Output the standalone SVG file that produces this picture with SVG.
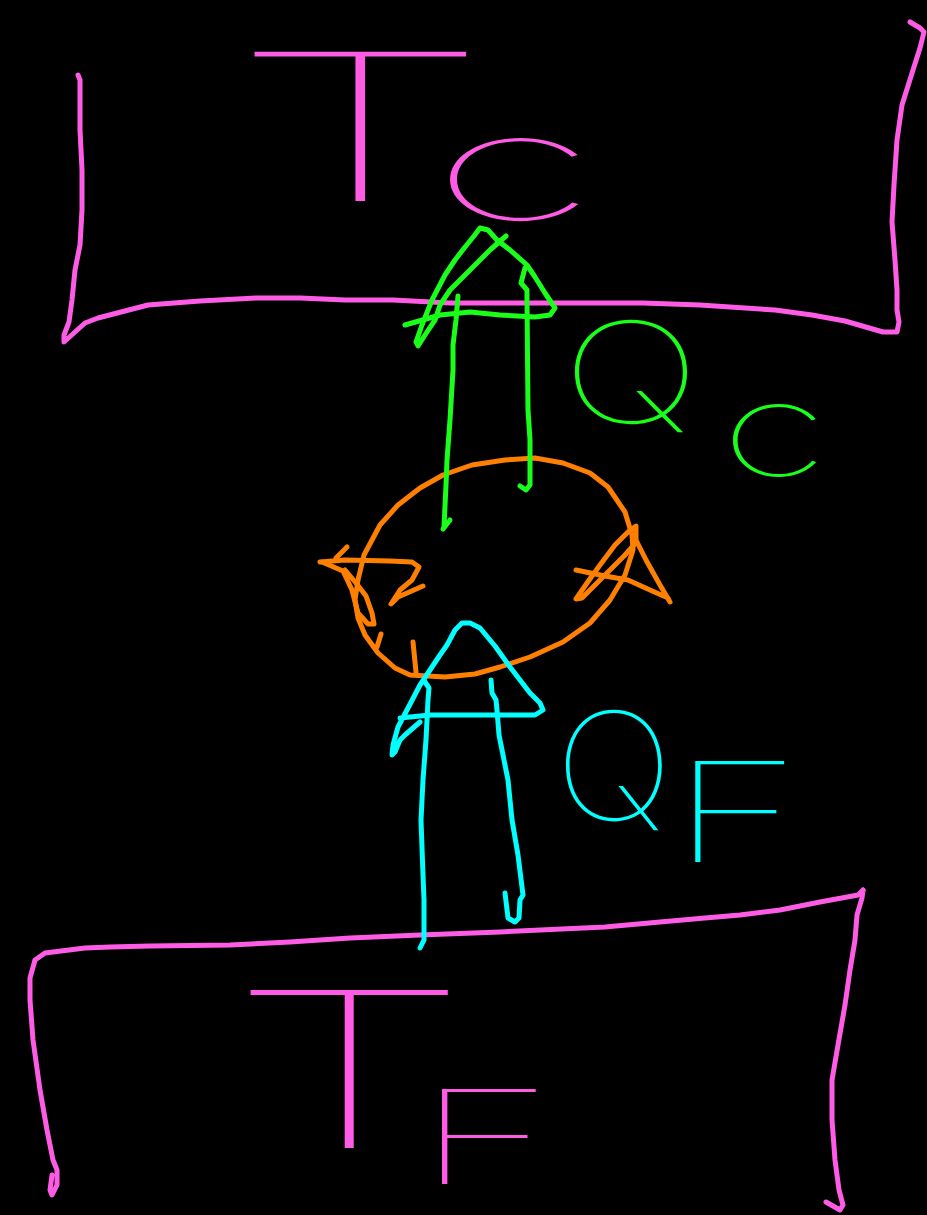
<svg xmlns="http://www.w3.org/2000/svg" width="927" height="1215" viewBox="0 0 927 1215">
<style>
.s{fill:none;stroke-width:5;stroke-linecap:round;stroke-linejoin:round}
.m{stroke:#ff5ce6}.g{stroke:#1aff1a}.o{stroke:#ff8000}.c{stroke:#00ffff}
.t{font-family:"Inter","Lato","Roboto","DejaVu Sans",sans-serif;font-weight:100;text-anchor:middle}
.ts{font-family:"Inter","Lato","Roboto","DejaVu Sans",sans-serif;font-weight:100}
.tm{fill:#ff5ce6}.tg{fill:#1aff1a}.tc{fill:#00ffff}
</style>
<rect width="927" height="1215" fill="#000"/>
<g id="hot-reservoir">
<path class="s m" d="M78,75 L80,80 L80,130 L82,170 L82,210 L80,245 L75,270 L72,300 L69,322 L64,335 L64,342 L75,332 L85,323 L98,318 L148,305 L200,301 L256,298 L300,298 L345,300 L393,300 L450,303 L550,303 L643,303 L700,305 L775,310 L812,315 L845,321 L883,332 L897,332 L899,322 L897,310 L897,290 L895,260 L892,222 L894,185 L897,140 L902,105 L913,70 L920,48 L924,32 L920,28 L910,22"/>
<text class="ts tm" transform="scale(2.1,1)" x="108.4" y="201" font-size="205">T<tspan dx="-29.8" dy="19" font-size="148">c</tspan></text>
</g>
<g id="cold-reservoir">
<path class="s m" d="M863,890 L858,895 L820,902 L780,910 L740,915 L705,918 L660,922 L605,927 L500,932 L420,935 L350,938 L290,942 L230,945 L150,946 L110,947 L85,948 L45,953 L35,960 L30,978 L30,1000 L33,1040 L40,1090 L47,1130 L53,1160 L57,1170 L57,1185 L52,1195 L50,1190 L52,1175"/>
<path class="s m" d="M863,890 L862,898 L857,915 L855,940 L850,970 L845,1005 L838,1045 L832,1080 L832,1120 L835,1160 L839,1190 L843,1205 L840,1210 L826,1202"/>
<text class="ts tm" transform="scale(1.85,1)" x="121.9" y="1148" font-size="217">T<tspan dx="-31.4" dy="36" font-size="130">F</tspan></text>
</g>
<g id="engine">
<path class="s o" d="M420,488 L443,475 L472,465 L505,460 L535,458 L563,463 L590,473 L608,487 L625,512 L632,535 L633,550 L625,575 L610,600 L590,623 L563,642 L530,657 L500,667 L475,674 L445,677 L410,675 L395,668 L378,653 L365,635 L358,618 L355,600 L358,580 L364,555 L380,525 L398,505 Z"/>
<path class="s o" d="M347,547 L336,558"/>
<path class="s o" d="M320,562 L345,560 L390,561 L412,562 L419,567 L412,580 L400,590 L391,604 L398,597 L423,586"/>
<path class="s o" d="M322,562 L343,571 L352,590 L358,613 L368,624 L374,624 L372,613 L366,596 L356,583 L345,570"/>
<path class="s o" d="M381,634 L377,647"/>
<path class="s o" d="M413,642 L416,672"/>
<path class="s o" d="M576,570 L605,576 L628,580 L650,590 L668,598 L670,602 L660,585 L646,560 L636,540 L636,526 L628,532 L615,545 L600,565 L587,583 L576,599 L582,598 L595,585 L610,570 L624,556 L634,545"/>
</g>
<g id="connectors">
<path class="s g" d="M444,527 L446,485 L447,460 L450,420 L453,370 L453,345 L456,320 L458,296"/>
<path class="s g" d="M443,529 L450,520"/>
<path class="s g" d="M520,486 L526,490 L530,485 L530,440 L528,410 L527,300 L527,290 L521,283 L525,268"/>
<path class="s g" d="M405,325 L440,315 L470,312 L500,315 L535,317 L550,315 L555,308 L545,293 L535,277 L527,265 L510,250 L497,240 L488,230 L480,228 L474,236 L465,247 L455,260 L445,275 L432,300 L422,325 L416,342 L418,346 L425,335 L435,320 L440,305 L450,290 L462,278 L475,265 L490,250 L506,236"/>
<path class="s c" d="M420,948 L424,940 L424,900 L423,875 L421,820 L423,780 L426,740 L428,700 L429,688 L425,682"/>
<path class="s c" d="M505,893 L508,918 L515,922 L519,918 L520,900 L523,895 L518,855 L512,820 L508,780 L504,760 L499,735 L497,710 L496,700 L492,693 L491,680"/>
<path class="s c" d="M400,718 L430,715 L470,715 L510,715 L535,715 L543,710 L540,703 L530,693 L520,680 L510,667 L495,646 L480,628 L470,623 L462,623 L455,630 L447,645 L440,655 L430,670 L420,685 L408,708 L398,727 L393,745 L392,755 L395,752 L400,740 L405,735 L420,722"/>
</g>
<g id="label-qc">
<text class="t tg" font-size="140" transform="translate(631,423) scale(1.33,1)">Q</text>
<text class="t tg" font-size="130" transform="translate(774,476) scale(1.55,1)">c</text>
</g>
<g id="label-qf">
<text class="t tc" font-size="150" transform="translate(614,820) scale(1.06,1)">Q</text>
<text class="t tc" font-size="139" transform="translate(736,862) scale(1.64,1)">F</text>
</g>
</svg>
